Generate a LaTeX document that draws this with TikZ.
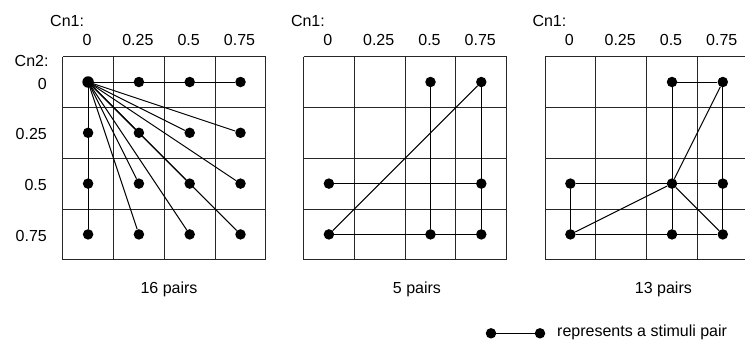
\documentclass[tikz,border=0pt]{standalone}
\usepackage{fontspec}
\setmainfont{Liberation Sans}
\begin{document}
\begin{tikzpicture}[x=1pt, y=-1pt,
  font=\fontsize{16}{19}\selectfont,
  gridline/.style={line width=1pt, draw=black!85},
  pair/.style={line width=1pt},
  dot/.style={circle, fill=black, inner sep=0pt, minimum size=10.5pt},
  bigdot/.style={dot, minimum size=11.5pt},
  lbl/.style={inner sep=0pt}]
\useasboundingbox (0,0) rectangle (745,341);
\clip (0,0) rectangle (745,341);
\def\cs{50.8}
\def\T{56.6}

% three 4x4 grids with their Cn1 axis labels and cell centres
\foreach \g/\L in {1/62.7, 2/303.5, 3/545} {
  \foreach \k in {0,...,4} {
    \draw[gridline] (\L+\k*\cs, \T) -- (\L+\k*\cs, \T+4*\cs);
    \draw[gridline] (\L, \T+\k*\cs) -- (\L+4*\cs, \T+\k*\cs);
  }
  \node[lbl, anchor=base west] (cnone\g) at (\L-12.7, 26) {Cn1:};
  \foreach \i/\t in {0/0, 1/0.25, 2/0.5, 3/0.75}
    \node[lbl, anchor=base] (col\g-\i) at (\L+\i*\cs+0.5*\cs-1, 45.7) {\t};
  \foreach \i in {0,...,3}
    \foreach \j in {0,...,3}
      \coordinate (p\g-\i\j) at (\L+\i*\cs+0.5*\cs, \T+\j*\cs+0.5*\cs);
}

% Cn2 axis labels, left of the first grid
\node[lbl, anchor=base east] (cntwo) at (48.7, 66) {Cn2:};
\foreach \j/\t in {0/0, 1/0.25, 2/0.5, 3/0.75}
  \node[lbl, anchor=base east] (row-\j) at (47, \T+\j*\cs+0.5*\cs+7) {\t};

% grid 1: every level paired with (0,0)
\node[bigdot] (d1-00) at (p1-00) {};
\foreach \ij in {10,20,30,01,11,21,31,02,12,22,32,03,13,23,33} {
  \node[dot] (d1-\ij) at (p1-\ij) {};
  \draw[pair] (d1-00.center) -- (d1-\ij);
}

% grid 2
\foreach \ij in {20,30,02,32,03,23,33}
  \node[dot] (d2-\ij) at (p2-\ij) {};
\foreach \a/\b in {20/23, 30/33, 30/03, 02/32, 03/33}
  \draw[pair] (d2-\a) -- (d2-\b);

% grid 3
\foreach \ij in {20,30,02,22,32,03,23,33}
  \node[dot] (d3-\ij) at (p3-\ij) {};
\foreach \a/\b in {20/30, 20/23, 30/33, 30/22, 02/32, 02/03, 03/22, 03/33, 22/33}
  \draw[pair] (d3-\a) -- (d3-\b);

% pair counts
\node[lbl, anchor=base] (count1) at (169, 293.3) {16 pairs};
\node[lbl, anchor=base] (count2) at (417, 293.3) {5 pairs};
\node[lbl, anchor=base] (count3) at (663.4, 293.3) {13 pairs};

% legend
\node[dot] (lega) at (491, 333.3) {};
\node[dot] (legb) at (540, 333.3) {};
\draw[pair] (lega) -- (legb);
\node[lbl, anchor=base west] (legtext) at (557, 336) {represents a stimuli pair};
\end{tikzpicture}
\end{document}
